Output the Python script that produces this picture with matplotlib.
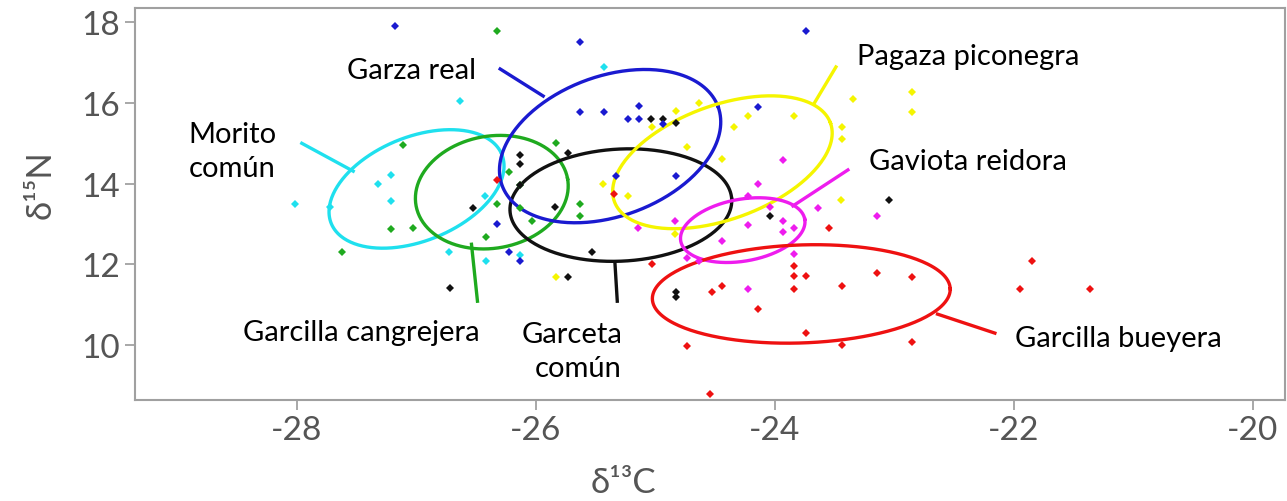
import numpy as np
import matplotlib
matplotlib.use('Agg')
import matplotlib.pyplot as plt

plt.rcParams['font.family'] = ['Lato', 'DejaVu Sans']
plt.rcParams['axes.unicode_minus'] = False

# Isotope values per species (delta13C, delta15N)
morito_x = [-26.64, -25.43, -26.43, -26.73, -26.42, -26.13, -27.32, -27.21, -27.21, -28.02, -27.72]
morito_y = [16.04, 16.89, 13.69, 12.31, 12.08, 12.23, 13.99, 14.21, 13.57, 13.50, 13.42]

cangrejera_x = [-26.33, -25.83, -27.11, -26.23, -26.13, -26.33, -26.13, -26.03, -25.63, -25.63, -26.42, -27.03, -27.21, -27.62]
cangrejera_y = [17.78, 15.01, 14.96, 14.29, 13.97, 13.50, 13.40, 13.07, 13.50, 13.20, 12.68, 12.90, 12.88, 12.31]

garceta_x = [-25.04, -24.94, -24.83, -26.13, -26.13, -26.13, -25.73, -26.53, -25.84, -25.53, -25.73, -26.72, -24.83, -24.83, -24.04, -23.05]
garceta_y = [15.60, 15.60, 15.50, 14.71, 14.49, 13.97, 14.76, 13.40, 13.42, 12.31, 11.69, 11.42, 11.32, 11.19, 13.20, 13.59]

garza_x = [-27.18, -25.63, -23.74, -25.63, -25.43, -25.14, -25.23, -25.14, -24.94, -24.14, -25.33, -24.83, -26.33, -26.23, -26.13]
garza_y = [17.90, 17.50, 17.78, 15.77, 15.77, 15.92, 15.60, 15.60, 15.48, 15.90, 14.19, 14.19, 13.00, 12.31, 12.08]

pagaza_x = [-24.83, -24.64, -25.03, -24.74, -25.44, -25.23, -24.44, -24.34, -24.23, -23.84, -23.35, -22.85, -22.85, -23.44, -23.44, -23.45, -25.83, -24.84]
pagaza_y = [15.80, 16.00, 15.40, 14.91, 13.99, 13.69, 14.61, 15.40, 15.67, 15.67, 16.09, 16.27, 15.77, 15.40, 15.10, 13.59, 11.69, 12.75]

gaviota_x = [-23.93, -24.14, -24.23, -24.04, -23.64, -23.15, -24.23, -23.93, -23.93, -23.84, -24.44, -24.74, -24.64, -23.84, -24.23, -25.15, -24.84]
gaviota_y = [14.58, 13.99, 13.69, 13.42, 13.40, 13.20, 12.98, 13.07, 12.80, 12.90, 12.58, 12.16, 12.08, 12.26, 11.39, 12.90, 13.07]

bueyera_x = [-26.33, -25.35, -25.03, -24.53, -24.44, -23.55, -23.84, -23.84, -23.74, -23.15, -22.85, -23.44, -23.84, -24.14, -23.74, -23.44, -22.85, -24.74, -24.54, -21.85, -21.95, -21.36]
bueyera_y = [14.09, 13.74, 12.01, 11.32, 11.47, 12.90, 11.96, 11.71, 11.71, 11.79, 11.69, 11.47, 11.39, 10.90, 10.30, 10.00, 10.08, 9.98, 8.79, 12.08, 11.39, 11.39]

# Ellipses: centre, semi-axes (in delta13C units as seen on screen), tilt on screen
ell_cx = [-27.00, -26.37, -25.29, -25.38, -24.44, -24.27, -23.78]
ell_cy = [13.87, 13.79, 13.47, 14.93, 14.53, 12.85, 11.27]
ell_a = [0.770, 0.644, 0.929, 0.962, 0.962, 0.527, 1.247]
ell_b = [0.435, 0.469, 0.469, 0.586, 0.477, 0.259, 0.410]
ell_ang = [22, 10, 3, 20, 20, 10, 2]

# Leader lines from label to ellipse
lead_x0 = [-27.96, -26.54, -25.34, -26.30, -23.67, -23.85, -22.64]
lead_y0 = [15.00, 12.50, 12.06, 16.84, 16.00, 13.45, 10.77]
lead_x1 = [-27.53, -26.49, -25.32, -25.94, -23.49, -23.39, -22.16]
lead_y1 = [14.31, 11.09, 11.09, 16.17, 16.89, 14.34, 10.30]

colors = ['#1fe0ee', '#1faa1f', '#111111', '#1a1ad0', '#f5f500', '#ee1cee', '#ee1111']
series = [(morito_x, morito_y), (cangrejera_x, cangrejera_y), (garceta_x, garceta_y),
          (garza_x, garza_y), (pagaza_x, pagaza_y), (gaviota_x, gaviota_y), (bueyera_x, bueyera_y)]

labels = ['Morito\ncomún', 'Garcilla cangrejera', 'Garceta\ncomún', 'Garza real',
          'Pagaza piconegra', 'Gaviota reidora', 'Garcilla bueyera']
label_x = [-28.91, -28.45, -25.28, -27.58, -23.31, -23.21, -21.99]
label_y = [14.81, 10.33, 9.86, 16.81, 17.16, 14.56, 10.18]
label_ha = ['left', 'left', 'right', 'left', 'left', 'left', 'left']

xlim = (-29.356, -19.732)
ylim = (8.644, 18.35)

fig = plt.figure(figsize=(12.87, 5.02), dpi=100)
ax = fig.add_axes([135 / 1287, 1 - 401 / 502, 1150 / 1287, 392 / 502])
ax.set_xlim(*xlim)
ax.set_ylim(*ylim)

# screen aspect: pixels per x unit over pixels per y unit
k = (1150 / (xlim[1] - xlim[0])) / (392 / (ylim[1] - ylim[0]))

for (xs, ys), c in zip(series, colors):
    ax.plot(xs, ys, 'D', color=c, markersize=4.5, markeredgewidth=0, zorder=3)

t = np.linspace(0, 2 * np.pi, 300)
for i, c in enumerate(colors):
    phi = np.radians(ell_ang[i])
    dx = ell_a[i] * np.cos(phi) * np.cos(t) - ell_b[i] * np.sin(phi) * np.sin(t)
    dy = ell_a[i] * np.sin(phi) * np.cos(t) + ell_b[i] * np.cos(phi) * np.sin(t)
    ax.plot(ell_cx[i] + dx, ell_cy[i] + dy * k, color=c, lw=2.4, zorder=2)
    ax.plot([lead_x0[i], lead_x1[i]], [lead_y0[i], lead_y1[i]], color=c, lw=2.4, zorder=2)
    ax.text(label_x[i], label_y[i], labels[i], ha=label_ha[i], va='center',
            fontsize=21, color='black', linespacing=1.4, zorder=4)

ax.set_xticks([-28, -26, -24, -22, -20])
ax.set_yticks([10, 12, 14, 16, 18])
ax.tick_params(colors='#999999', labelcolor='#555555', labelsize=24, length=7, width=1.2)
for s in ax.spines.values():
    s.set_color('#a0a0a0')
    s.set_linewidth(1.5)

fig.text(623 / 1287, 1 - 483 / 502, 'δ¹³C', ha='center', va='center', fontsize=25, color='#555555')
fig.text(41 / 1287, 1 - 185 / 502, 'δ¹⁵N', ha='center', va='center', rotation=90, fontsize=25, color='#555555')

fig.savefig('out.png', dpi=100)
